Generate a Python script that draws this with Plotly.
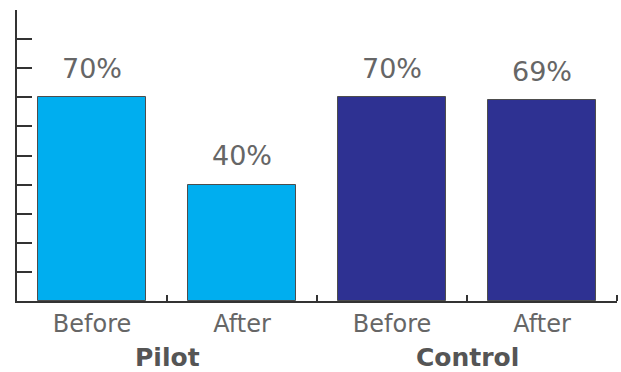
import plotly.graph_objects as go

categories = ["Before", "After", "Before", "After"]
groups = ["Pilot", "Control"]
values = [70, 40, 70, 69]
colors = ["#00AEEF", "#00AEEF", "#2E3192", "#2E3192"]

x = list(range(len(categories)))
fig = go.Figure()
fig.add_trace(go.Bar(
    x=x, y=values, width=0.72,
    marker=dict(color=colors, line=dict(color="#4d4d4d", width=1)),
    hoverinfo="skip",
))

font_family = "DejaVu Sans, Verdana, sans-serif"
for xi, v in zip(x, values):
    fig.add_annotation(x=xi, y=v, text=f"{v}%", showarrow=False,
                       yanchor="middle", yshift=29,
                       font=dict(family=font_family, size=27, color="#666666"))
for gi, g in enumerate(groups):
    fig.add_annotation(x=gi * 2 + 0.5, y=0, yref="paper", text=f"<b>{g}</b>",
                       showarrow=False, yanchor="middle", yshift=-56,
                       font=dict(family=font_family, size=25, color="#555555"))

fig.update_layout(
    width=621, height=372,
    margin=dict(l=17, r=4, t=10, b=71),
    plot_bgcolor="white", paper_bgcolor="white",
    showlegend=False, bargap=0,
)
fig.update_xaxes(
    range=[-0.5, 3.5], tickvals=x, ticktext=categories, ticks="",
    tickfont=dict(family=font_family, size=24, color="#666666"),
    ticklabelstandoff=0,
    showline=True, linecolor="#333333", linewidth=2, showgrid=False, zeroline=False,
    minor=dict(tickvals=[0.5, 1.5, 2.5, 3.5], ticks="inside", ticklen=6,
               tickcolor="#333333", tickwidth=1.5),
)
fig.update_yaxes(
    range=[0, 100], dtick=10, ticks="inside", ticklen=15, tickwidth=2,
    tickcolor="#333333", showticklabels=False,
    showline=True, linecolor="#333333", linewidth=2, showgrid=False, zeroline=False,
)
fig.write_html("out.html")
